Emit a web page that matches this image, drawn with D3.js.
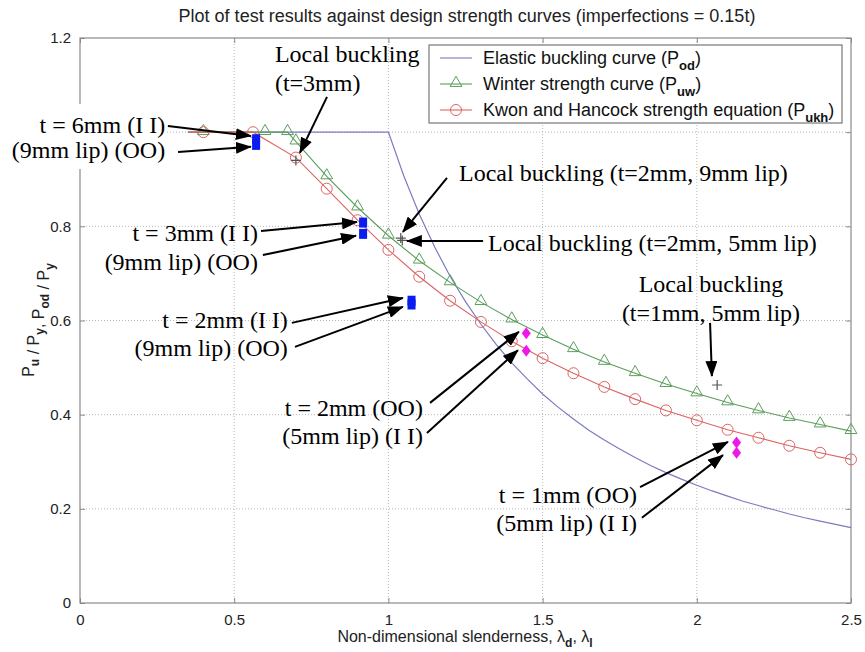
<!DOCTYPE html>
<html>
<head>
<meta charset="utf-8">
<script src="https://cdn.jsdelivr.net/npm/d3@7/dist/d3.min.js"></script>
<style>
  body { margin: 0; background: #fff; }
  svg { display: block; }
</style>
</head>
<body>
<div id="chart"></div>
<script>
// ---- data ----
// elastic buckling curve (Pod/Py)
var elasticX = [0.35, 1.0, 1.05, 1.1, 1.15, 1.2, 1.25, 1.3, 1.35, 1.4, 1.45, 1.5, 1.55, 1.6, 1.65, 1.7,
  1.75, 1.8, 1.85, 1.9, 1.95, 2.0, 2.05, 2.1, 2.15, 2.2, 2.25, 2.3, 2.35, 2.4, 2.45, 2.5];
var elasticY = [1, 1, 0.907, 0.826, 0.756, 0.694, 0.640, 0.592, 0.549, 0.510, 0.476, 0.444, 0.416, 0.391, 0.367, 0.346,
  0.327, 0.309, 0.292, 0.277, 0.263, 0.250, 0.238, 0.227, 0.216, 0.207, 0.198, 0.189, 0.181, 0.174, 0.167, 0.160];

// Winter strength curve (Puw) - first point has no marker
var winterX = [0.35, 0.4, 0.6, 0.673, 0.7, 0.8, 0.9, 1.0, 1.1, 1.2, 1.3, 1.4, 1.5, 1.6, 1.7, 1.8, 1.9, 2.0,
  2.1, 2.2, 2.3, 2.4, 2.5];
var winterY = [1, 1, 1, 1, 0.980, 0.906, 0.840, 0.780, 0.727, 0.681, 0.639, 0.602, 0.569, 0.539, 0.512, 0.488,
  0.465, 0.445, 0.426, 0.409, 0.393, 0.379, 0.365];

// Kwon and Hancock strength equation (Pukh)
var khX = [0.35, 0.4, 0.561, 0.7, 0.8, 0.9, 1.0, 1.1, 1.2, 1.3, 1.4, 1.5, 1.6, 1.7, 1.8, 1.9, 2.0, 2.1, 2.2,
  2.3, 2.4, 2.5];
var khY = [1, 1, 1, 0.946, 0.880, 0.813, 0.750, 0.693, 0.642, 0.597, 0.556, 0.520, 0.488, 0.459, 0.433, 0.409,
  0.388, 0.368, 0.351, 0.334, 0.319, 0.305];

// test results, 9mm lip (blue squares)
var lip9X = [0.571, 0.571, 0.918, 0.918, 1.075, 1.075];
var lip9Y = [0.985, 0.973, 0.808, 0.784, 0.642, 0.634];
// test results, 5mm lip (magenta diamonds)
var lip5X = [1.447, 1.447, 2.129, 2.129];
var lip5Y = [0.573, 0.536, 0.341, 0.319];
// local buckling results (crosses)
var localX = [0.70, 1.04, 1.045, 2.066];
var localY = [0.94, 0.775, 0.770, 0.463];

var xTicks = [0, 0.5, 1, 1.5, 2, 2.5];
var yTicks = [0, 0.2, 0.4, 0.6, 0.8, 1, 1.2];

// annotations: text lines (data coords of anchor) and arrows (from -> to)
var notes = [
  { lines: ['t = 6mm (I I)', '(9mm lip) (OO)'], x: 0.276, y: [0.998, 0.945], anchor: 'end', bg: true },
  { lines: ['Local buckling', '(t=3mm)'], x: 0.632, y: [1.149, 1.088], anchor: 'start' },
  { lines: ['Local buckling (t=2mm, 9mm lip)'], x: 1.229, y: [0.896], anchor: 'start' },
  { lines: ['Local buckling (t=2mm, 5mm lip)'], x: 1.323, y: [0.748], anchor: 'start' },
  { lines: ['Local buckling', '(t=1mm, 5mm lip)'], x: 2.046, y: [0.661, 0.599], anchor: 'middle' },
  { lines: ['t = 3mm (I I)', '(9mm lip) (OO)'], x: 0.577, y: [0.769, 0.707], anchor: 'end' },
  { lines: ['t = 2mm (I I)', '(9mm lip) (OO)'], x: 0.674, y: [0.584, 0.525], anchor: 'end' },
  { lines: ['t = 2mm (OO)', '(5mm lip) (I I)'], x: 1.112, y: [0.397, 0.338], anchor: 'end' },
  { lines: ['t = 1mm (OO)', '(5mm lip) (I I)'], x: 1.806, y: [0.212, 0.153], anchor: 'end' }
];
var arrows = [
  [0.285, 1.013, 0.554, 0.992], [0.318, 0.958, 0.554, 0.969],
  [0.801, 1.075, 0.713, 0.956],
  [1.190, 0.903, 1.047, 0.788],
  [1.307, 0.769, 1.060, 0.769],
  [2.043, 0.595, 2.049, 0.482],
  [0.587, 0.790, 0.898, 0.809], [0.593, 0.739, 0.895, 0.780],
  [0.687, 0.595, 1.047, 0.648], [0.697, 0.544, 1.047, 0.629],
  [1.135, 0.425, 1.423, 0.576], [1.125, 0.361, 1.420, 0.537],
  [1.816, 0.246, 2.101, 0.342], [1.822, 0.181, 2.085, 0.314]
];

var legendItems = ['Elastic buckling curve (P', 'Winter strength curve (P', 'Kwon and Hancock strength equation (P'];
var legendSubs = ['od', 'uw', 'ukh'];

// ---- layout ----
var margin = { top: 38, right: 14, bottom: 49, left: 80 },
  width = 865 - margin.left - margin.right,
  height = 652 - margin.top - margin.bottom;

var colElastic = '#7b7bc0',
  colWinter = '#5b9e5b',
  colKh = '#dc6464',
  axisCol = '#8a8a8a',
  sans = '"Liberation Sans", Arial, Helvetica, sans-serif',
  serif = '"Liberation Serif", "Times New Roman", serif';

var svg = d3.select('#chart').append('svg')
  .attr('width', 865).attr('height', 652);

var defs = svg.append('defs');
defs.append('marker')
  .attr('id', 'head')
  .attr('viewBox', '0 0 16 12')
  .attr('refX', 15).attr('refY', 6)
  .attr('markerWidth', 16).attr('markerHeight', 12)
  .attr('markerUnits', 'userSpaceOnUse')
  .attr('orient', 'auto')
  .append('path').attr('d', 'M0,0 L16,6 L0,12 Z').attr('fill', '#000');

var g = svg.append('g')
  .attr('transform', 'translate(' + margin.left + ',' + margin.top + ')');

var x = d3.scaleLinear().domain([0, 2.5]).range([0, width]);
var y = d3.scaleLinear().domain([0, 1.2]).range([height, 0]);
var fmt = function(d) { return String(d); };
// the "1" label on the y axis sits under the white box of the top-left note
var yFmt = function(d) { return d === 1 ? '' : String(d); };

// grid
g.selectAll('line.gx').data(xTicks.slice(1, -1)).enter().append('line')
  .attr('class', 'gx')
  .attr('x1', function(d) { return x(d); }).attr('x2', function(d) { return x(d); })
  .attr('y1', 0).attr('y2', height)
  .attr('stroke', '#b8b8b8').attr('stroke-dasharray', '1,2');
g.selectAll('line.gy').data(yTicks.slice(1, -1)).enter().append('line')
  .attr('class', 'gy')
  .attr('x1', 0).attr('x2', width)
  .attr('y1', function(d) { return y(d); }).attr('y2', function(d) { return y(d); })
  .attr('stroke', '#b8b8b8').attr('stroke-dasharray', '1,2');

// axes (matlab style, ticks inside on all sides)
function styleAxis(sel) {
  sel.select('.domain').remove();
  sel.selectAll('.tick line').attr('stroke', axisCol);
  sel.selectAll('.tick text').attr('fill', '#222').style('font-family', sans).style('font-size', '15px');
}
g.append('g').attr('transform', 'translate(0,' + height + ')')
  .call(d3.axisBottom(x).tickValues(xTicks).tickFormat(fmt).tickSize(-5).tickPadding(11)).call(styleAxis);
g.append('g')
  .call(d3.axisTop(x).tickValues(xTicks).tickSize(-5).tickFormat('')).call(styleAxis);
g.append('g')
  .call(d3.axisLeft(y).tickValues(yTicks).tickFormat(yFmt).tickSize(-5).tickPadding(9)).call(styleAxis);
g.append('g').attr('transform', 'translate(' + width + ',0)')
  .call(d3.axisRight(y).tickValues(yTicks).tickSize(-5).tickFormat('')).call(styleAxis);

g.append('rect')
  .attr('width', width).attr('height', height)
  .attr('fill', 'none').attr('stroke', axisCol).attr('stroke-width', 1.2);

// curves
var line = d3.line()
  .x(function(d) { return x(d[0]); })
  .y(function(d) { return y(d[1]); });

var elastic = d3.zip(elasticX, elasticY),
  winter = d3.zip(winterX, winterY),
  kh = d3.zip(khX, khY);

g.append('path').datum(elastic).attr('d', line)
  .attr('fill', 'none').attr('stroke', colElastic).attr('stroke-width', 1.2);
g.append('path').datum(winter).attr('d', line)
  .attr('fill', 'none').attr('stroke', colWinter).attr('stroke-width', 1.1);
g.append('path').datum(kh).attr('d', line)
  .attr('fill', 'none').attr('stroke', colKh).attr('stroke-width', 1.1);

var tri = d3.symbol().type(d3.symbolTriangle).size(60);

g.selectAll('path.tri').data(winter.slice(1)).enter().append('path')
  .attr('class', 'tri')
  .attr('d', tri)
  .attr('transform', function(d) { return 'translate(' + x(d[0]) + ',' + (y(d[1]) - 1) + ')'; })
  .attr('fill', 'none').attr('stroke', colWinter).attr('stroke-width', 1);

g.selectAll('circle.kh').data(kh.slice(1)).enter().append('circle')
  .attr('class', 'kh')
  .attr('cx', function(d) { return x(d[0]); })
  .attr('cy', function(d) { return y(d[1]); })
  .attr('r', 5.5)
  .attr('fill', 'none').attr('stroke', colKh).attr('stroke-width', 1);

// test points
g.selectAll('rect.sq').data(d3.zip(lip9X, lip9Y)).enter().append('rect')
  .attr('class', 'sq')
  .attr('x', function(d) { return x(d[0]) - 4; })
  .attr('y', function(d) { return y(d[1]) - 5; })
  .attr('width', 8).attr('height', 10)
  .attr('fill', '#0a1cf0');

g.selectAll('path.dia').data(d3.zip(lip5X, lip5Y)).enter().append('path')
  .attr('class', 'dia')
  .attr('d', 'M0,-6 L4.5,0 L0,6 L-4.5,0 Z')
  .attr('transform', function(d) { return 'translate(' + x(d[0]) + ',' + y(d[1]) + ')'; })
  .attr('fill', '#f018e8');

g.selectAll('path.plus').data(d3.zip(localX, localY)).enter().append('path')
  .attr('class', 'plus')
  .attr('d', 'M-5,0 H5 M0,-5 V5')
  .attr('transform', function(d) { return 'translate(' + x(d[0]) + ',' + y(d[1]) + ')'; })
  .attr('stroke', '#555').attr('stroke-width', 1.2);

// legend
var lg = svg.append('g').attr('transform', 'translate(429,45)');
lg.append('rect').attr('width', 413).attr('height', 78)
  .attr('fill', '#fff').attr('stroke', '#777').attr('stroke-width', 1.2);
var legendCols = [colElastic, colWinter, colKh];
var items = lg.selectAll('g.item').data(legendItems).enter().append('g')
  .attr('class', 'item')
  .attr('transform', function(d, i) { return 'translate(0,' + (13 + i * 26) + ')'; });
items.append('line').attr('x1', 11).attr('x2', 43)
  .attr('stroke', function(d, i) { return legendCols[i]; }).attr('stroke-width', 1.1);
items.filter(function(d, i) { return i === 1; }).append('path')
  .attr('d', tri).attr('transform', 'translate(27,-1)')
  .attr('fill', 'none').attr('stroke', colWinter);
items.filter(function(d, i) { return i === 2; }).append('circle')
  .attr('cx', 27).attr('r', 5.5)
  .attr('fill', 'none').attr('stroke', colKh);
var lt = items.append('text').attr('x', 54).attr('y', 6)
  .style('font-family', sans).style('font-size', '18px').attr('fill', '#111');
lt.append('tspan').text(function(d) { return d; });
lt.append('tspan').attr('dy', 6).style('font-size', '13px').style('font-weight', 'bold')
  .text(function(d, i) { return legendSubs[i]; });
lt.append('tspan').attr('dy', -6).text(')');

// title and axis labels
svg.append('text').attr('x', 467).attr('y', 22).attr('text-anchor', 'middle')
  .style('font-family', sans).style('font-size', '18px').attr('fill', '#222')
  .text('Plot of test results against design strength curves (imperfections = 0.15t)');

var xl = svg.append('text').attr('x', 465).attr('y', 642).attr('text-anchor', 'middle')
  .style('font-family', sans).style('font-size', '16px').attr('fill', '#222');
xl.append('tspan').text('Non-dimensional slenderness, \u03bb');
xl.append('tspan').attr('dy', 5).style('font-size', '12px').style('font-weight', 'bold').text('d');
xl.append('tspan').attr('dy', -5).text(', \u03bb');
xl.append('tspan').attr('dy', 5).style('font-size', '12px').style('font-weight', 'bold').text('l');

var yl = svg.append('text').attr('transform', 'translate(34,320) rotate(-90)').attr('text-anchor', 'middle')
  .style('font-family', sans).style('font-size', '16px').attr('fill', '#222');
[['P', 'u'], [' / P', 'y'], [', P', 'od'], [' / P', 'y']].forEach(function(p) {
  yl.append('tspan').attr('dy', 0).text(p[0]);
  yl.append('tspan').attr('dy', 5).style('font-size', '12px').style('font-weight', 'bold').text(p[1]);
  yl.append('tspan').attr('dy', -5).text('');
});

// annotations
var ann = svg.append('g').attr('class', 'annotations')
  .attr('transform', 'translate(' + margin.left + ',' + margin.top + ')');

notes.forEach(function(n) {
  var blk = ann.append('g');
  var bgRect = blk.append('rect').attr('fill', '#fff');
  n.lines.forEach(function(t, i) {
    blk.append('text')
      .attr('x', x(n.x)).attr('y', y(n.y[i]))
      .attr('text-anchor', n.anchor)
      .style('font-family', serif).style('font-size', '24px').attr('fill', '#000')
      .text(t);
  });
  if (n.bg) {
    var bb = blk.node().getBBox();
    bgRect.attr('x', bb.x - 8).attr('y', bb.y - 8)
      .attr('width', bb.width + 10).attr('height', bb.height + 14);
  } else {
    bgRect.remove();
  }
});

ann.selectAll('line.arrow').data(arrows).enter().append('line')
  .attr('class', 'arrow')
  .attr('x1', function(d) { return x(d[0]); }).attr('y1', function(d) { return y(d[1]); })
  .attr('x2', function(d) { return x(d[2]); }).attr('y2', function(d) { return y(d[3]); })
  .attr('stroke', '#000').attr('stroke-width', 2)
  .attr('marker-end', 'url(#head)');
</script>
</body>
</html>
